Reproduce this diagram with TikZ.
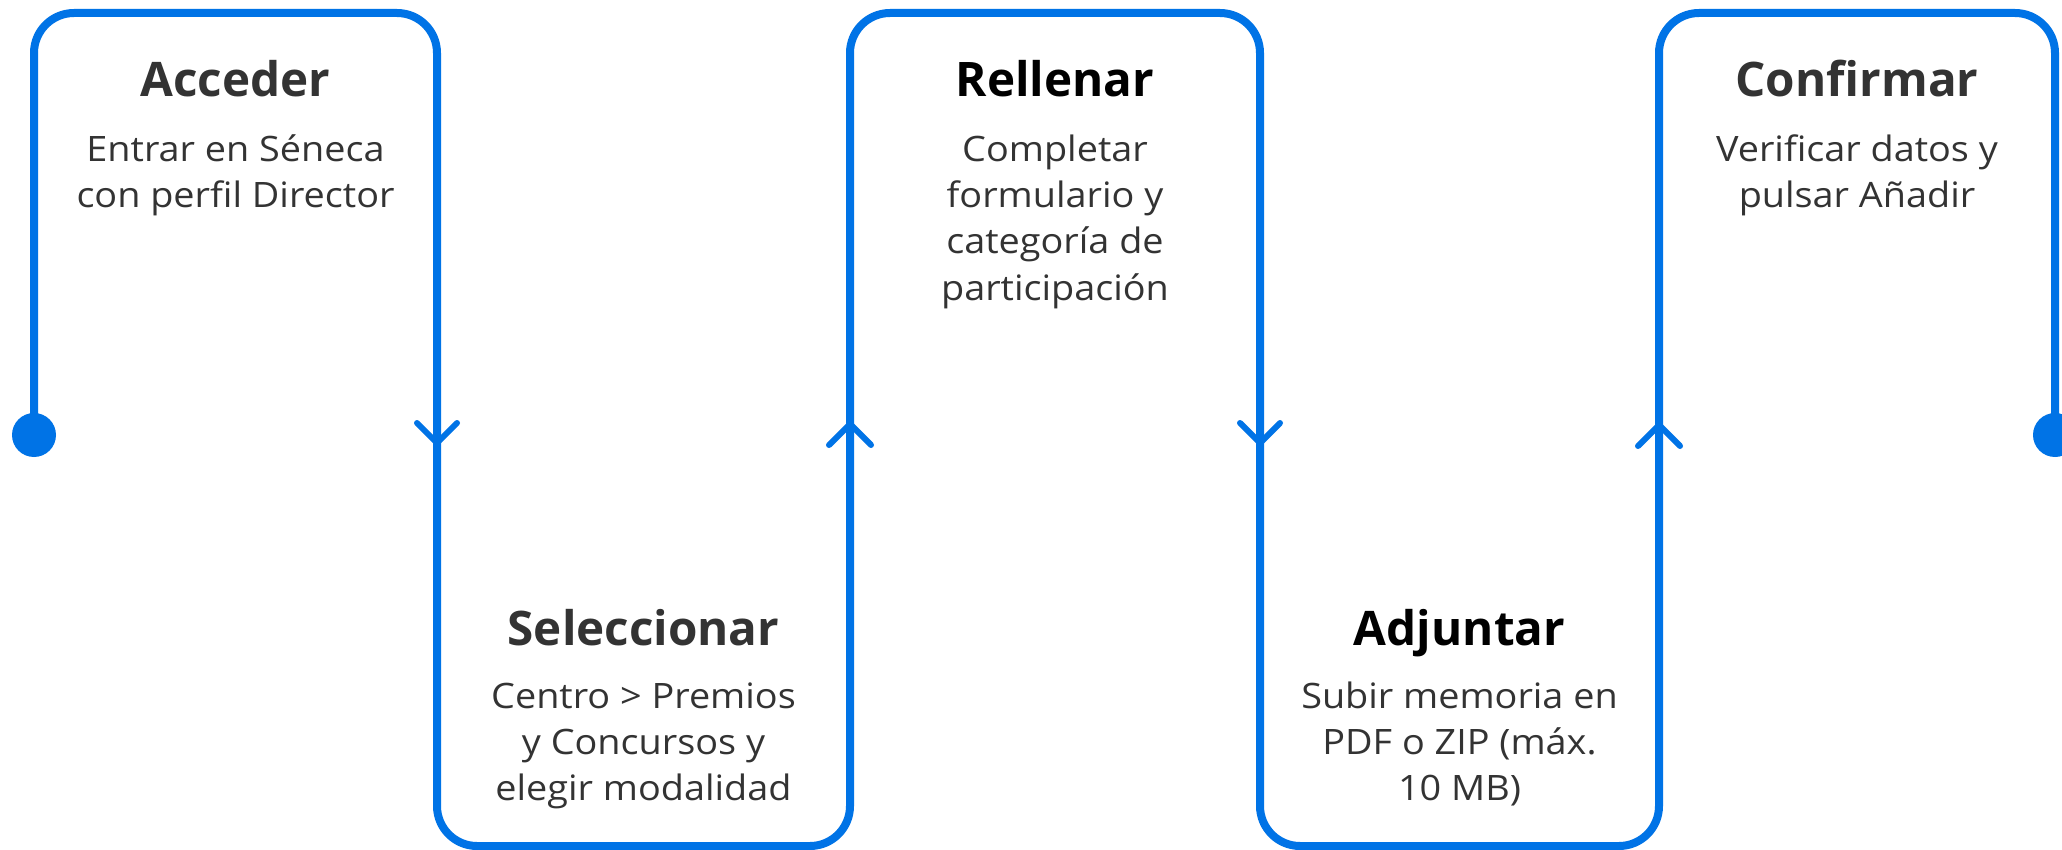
\documentclass[tikz,border=0pt]{standalone}
\usepackage{fontspec}
\setmainfont{Open Sans}
\newfontfamily\bodyfont[FakeStretch=1.08]{Open Sans}
\definecolor{flowblue}{HTML}{0073E6}
\definecolor{ink}{HTML}{333333}
\begin{document}
\begin{tikzpicture}[x=0.5pt,y=-0.5pt,
  flow/.style={draw=flowblue, line width=4pt, rounded corners=20pt},
  chev/.style={draw=flowblue, line width=3pt, line cap=round, line join=round},
  dotstyle/.style={circle, fill=flowblue, minimum size=22pt, inner sep=0pt},
  title/.style={font=\fontsize{23.8}{28}\selectfont\bfseries, anchor=base, inner sep=0pt},
  body/.style={font=\bodyfont\fontsize{17.5}{23}\selectfont, text=ink, anchor=base, inner sep=0pt},
]
\useasboundingbox (0,0) rectangle (2062,850);
\fill[white] (0,0) rectangle (2062,850);
% flow line
\node[dotstyle] (start) at (34,435) {};
\node[dotstyle] (end) at (2055,435) {};
\coordinate (c1) at (34,13);
\coordinate (c2) at (437,13);
\coordinate (c3) at (437,846);
\coordinate (c4) at (850,846);
\coordinate (c5) at (850,13);
\coordinate (c6) at (1260,13);
\coordinate (c7) at (1260,846);
\coordinate (c8) at (1659,846);
\coordinate (c9) at (1659,13);
\coordinate (c10) at (2055,13);
\draw[flow] (start.center) -- (c1) -- (c2) -- (c3) -- (c4) -- (c5) -- (c6) -- (c7) -- (c8) -- (c9) -- (c10) -- (end.center);
% chevrons
\coordinate (a1) at (437,443);
\coordinate (a2) at (850,424);
\coordinate (a3) at (1260,443);
\coordinate (a4) at (1659,425);
\draw[chev] (a1) ++(-20,-20) -- (a1) -- ++(20,-20);
\draw[chev] (a2) ++(-21,21) -- (a2) -- ++(21,21);
\draw[chev] (a3) ++(-20,-20) -- (a3) -- ++(20,-20);
\draw[chev] (a4) ++(-21,21) -- (a4) -- ++(21,21);
% step 1
\node[title, text=ink] (t1) at (235.5,97) {Acceder};
\node[body] (b1a) at (235.5,162) {Entrar en Séneca};
\node[body] (b1b) at (235.5,208) {con perfil Director};
% step 2
\node[title, text=ink] (t2) at (643.5,645) {Seleccionar};
\node[body] (b2a) at (643.5,708) {Centro > Premios};
\node[body] (b2b) at (643.5,754) {y Concursos y};
\node[body] (b2c) at (643.5,800) {elegir modalidad};
% step 3
\node[title, text=black] (t3) at (1055,97) {Rellenar};
\node[body] (b3a) at (1055,162) {Completar};
\node[body] (b3b) at (1055,208) {formulario y};
\node[body] (b3c) at (1055,254) {categoría de};
\node[body] (b3d) at (1055,300) {participación};
% step 4
\node[title, text=black] (t4) at (1459.5,645) {Adjuntar};
\node[body] (b4a) at (1459.5,708) {Subir memoria en};
\node[body] (b4b) at (1459.5,754) {PDF o ZIP (máx.};
\node[body] (b4c) at (1459.5,800) {10 MB)};
% step 5
\node[title, text=ink] (t5) at (1857,97) {Confirmar};
\node[body] (b5a) at (1857,162) {Verificar datos y};
\node[body] (b5b) at (1857,208) {pulsar Añadir};
\end{tikzpicture}
\end{document}
